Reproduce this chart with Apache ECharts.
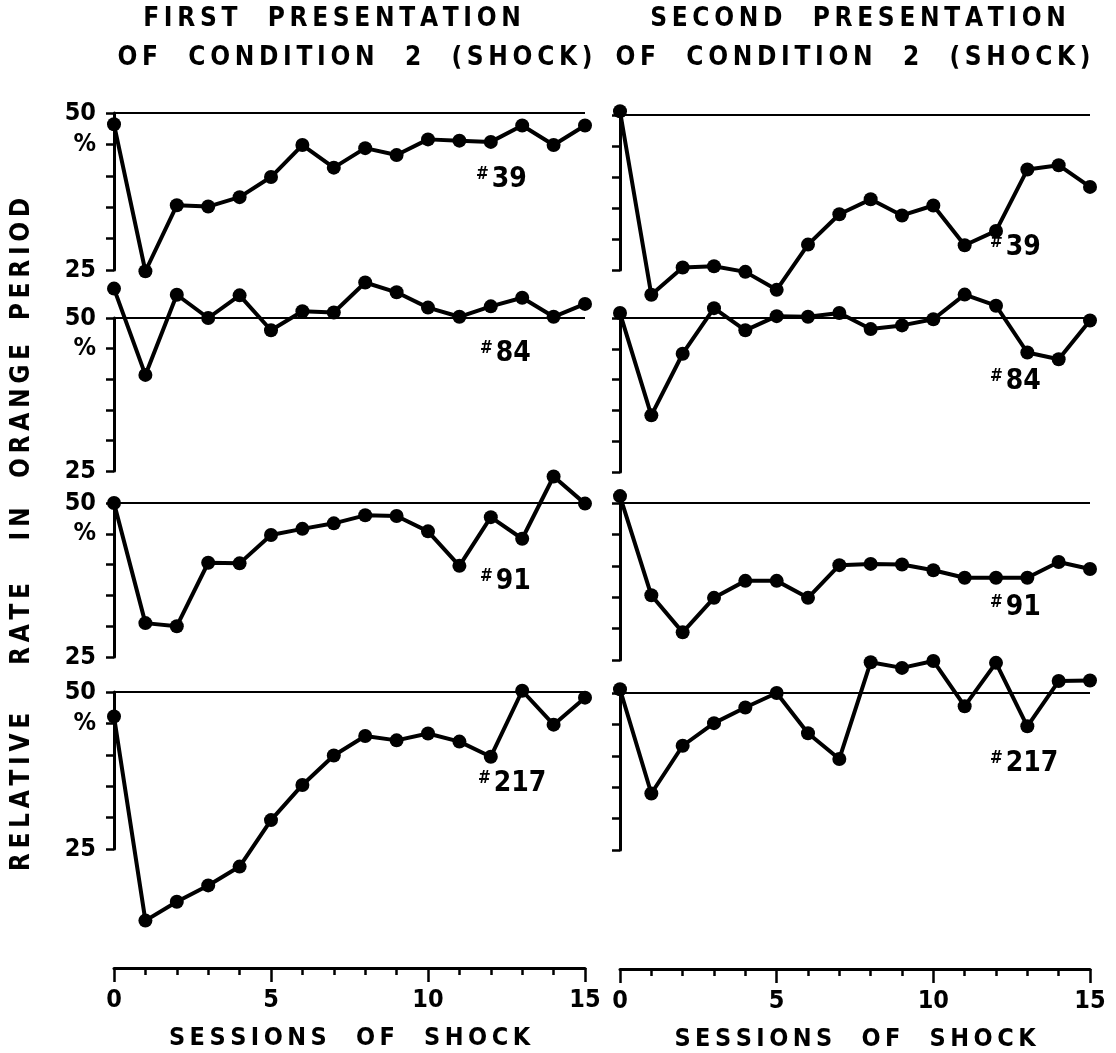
<!DOCTYPE html>
<html>
<head>
<meta charset="utf-8">
<script src="https://cdn.jsdelivr.net/npm/echarts@6/dist/echarts.min.js"></script>
<style>
  html, body { margin: 0; padding: 0; background: #fff; }
  #chart { width: 1116px; height: 1053px; }
</style>
</head>
<body>
<div id="chart"></div>
<script>
// sessions of shock (x)
const sessions = [0, 1, 2, 3, 4, 5, 6, 7, 8, 9, 10, 11, 12, 13, 14, 15];

// first presentation of condition 2
const first39 = [48.2, 24.8, 35.3, 35.1, 36.6, 39.8, 44.9, 41.3, 44.4, 43.3, 45.8, 45.6, 45.4, 48.0, 44.9, 48.0];
const first84 = [54.8, 40.7, 53.8, 50.0, 53.7, 48.0, 51.1, 50.9, 55.8, 54.2, 51.7, 50.2, 51.9, 53.3, 50.2, 52.3];
const first91 = [50.0, 30.5, 30.0, 40.3, 40.2, 44.8, 45.8, 46.7, 48.0, 47.9, 45.4, 39.8, 47.7, 44.2, 54.3, 49.9];
const first217 = [46.1, 13.6, 16.6, 19.2, 22.2, 29.6, 35.2, 39.9, 43.0, 42.3, 43.4, 42.1, 39.7, 50.2, 44.8, 49.1];

// second presentation of condition 2
const second39 = [50.6, 21.0, 25.4, 25.6, 24.7, 21.8, 29.1, 34.0, 36.4, 33.8, 35.4, 29.0, 31.3, 41.2, 41.9, 38.4];
const second84 = [50.8, 34.2, 44.2, 51.6, 48.0, 50.3, 50.2, 50.8, 48.2, 48.8, 49.8, 53.8, 52.0, 44.4, 43.3, 49.6];
const second91 = [51.1, 35.3, 29.4, 34.9, 37.6, 37.6, 34.9, 40.1, 40.3, 40.2, 39.3, 38.1, 38.1, 38.1, 40.6, 39.5];
const second217 = [50.6, 34.0, 41.6, 45.2, 47.7, 50.0, 43.6, 39.5, 54.9, 54.0, 55.1, 47.9, 54.8, 44.7, 51.9, 52.0];

// tick labels
const yTickValues = [50, 45, 25];
const yTickTexts = ['50', '%', '25'];
const subjects = ['39', '84', '91', '217'];

const chart = echarts.init(document.getElementById('chart'), null, { renderer: 'canvas' });

const FONT = 'DejaVu Sans Condensed';
const spaced = s => s.split('').join('\u2009');

// panel boxes: left column then right column, top to bottom
const panels = [
  { left: 114, top: 113, width: 471, height: 157, data: first39 },
  { left: 114, top: 318, width: 471, height: 153, data: first84 },
  { left: 114, top: 503, width: 471, height: 154, data: first91 },
  { left: 114, top: 692, width: 471, height: 157, data: first217 },
  { left: 620, top: 115, width: 470, height: 155, data: second39 },
  { left: 620, top: 318, width: 470, height: 154, data: second84 },
  { left: 620, top: 503, width: 470, height: 157, data: second91 },
  { left: 620, top: 693, width: 470, height: 157, data: second217 }
];

const grids = [], xAxes = [], yAxes = [], series = [];
panels.forEach((p, i) => {
  const isLeft = i < 4;
  const isBottom = i === 3 || i === 7;
  grids.push({ left: p.left, top: p.top, width: p.width, height: p.height, outerBoundsMode: 'none', containLabel: false });
  xAxes.push({
    gridIndex: i,
    type: 'value',
    min: 0,
    max: 15,
    interval: 5,
    show: isBottom,
    offset: isBottom ? 119 : 0,
    axisLine: { show: true, lineStyle: { color: '#000', width: 3 } },
    axisTick: { show: true, length: 14, lineStyle: { color: '#000', width: 2.5 } },
    minorTick: { show: true, splitNumber: 5, length: 7, lineStyle: { color: '#000', width: 2.5 } },
    splitLine: { show: false },
    axisLabel: { color: '#000', fontSize: 25, fontFamily: FONT, fontWeight: 'bold', margin: 20 },
    name: spaced('SESSIONS  OF  SHOCK'),
    nameLocation: 'middle',
    nameGap: 58,
    nameTextStyle: { color: '#000', fontSize: 25, fontFamily: FONT, fontWeight: 'bold' }
  });
  yAxes.push({
    gridIndex: i,
    type: 'value',
    min: 25,
    max: 50,
    interval: 5,
    axisLine: { show: true, lineStyle: { color: '#000', width: 3 } },
    axisTick: { show: true, length: 8, lineStyle: { color: '#000', width: 2.5 } },
    splitLine: { show: false },
    axisLabel: {
      show: isLeft,
      color: '#000',
      fontSize: 25,
      fontFamily: FONT,
      fontWeight: 'bold',
      margin: 18,
      formatter: v => {
        const k = yTickValues.indexOf(v);
        return k >= 0 ? yTickTexts[k] : '';
      }
    }
  });
  series.push({
    type: 'line',
    xAxisIndex: i,
    yAxisIndex: i,
    data: sessions.map((s, j) => [s, p.data[j]]),
    clip: false,
    symbol: 'circle',
    symbolSize: 14,
    lineStyle: { color: '#000', width: 4 },
    itemStyle: { color: '#000' },
    markLine: {
      silent: true,
      symbol: 'none',
      label: { show: false },
      lineStyle: { color: '#000', width: 2, type: 'solid' },
      data: [{ yAxis: 50 }]
    },
    z: 3
  });
});

// subject labels like "#39"
const labelPos = [
  [476, 166], [480, 340], [480, 568], [478, 770],
  [990, 234], [990, 368], [990, 594], [990, 750]
];
const subjectTexts = labelPos.map((pos, i) => ({
  type: 'text',
  x: pos[0],
  y: pos[1],
  style: {
    text: '{h|#}{n|' + subjects[i % 4] + '}',
    fill: '#000',
    rich: {
      h: { fontSize: 17, fontFamily: FONT, fontWeight: 'bold', verticalAlign: 'top', padding: [0, 3, 8, 0] },
      n: { fontSize: 28, fontFamily: FONT, fontWeight: 'bold' }
    }
  }
}));

const titleStyle = { fill: '#000', fontSize: 26, fontFamily: FONT, fontWeight: 'bold', align: 'center', verticalAlign: 'middle' };
const titles = [
  { text: spaced('FIRST  PRESENTATION'), x: 332, y: 19 },
  { text: spaced('OF  CONDITION  2  (SHOCK)'), x: 355, y: 58 },
  { text: spaced('SECOND  PRESENTATION'), x: 858, y: 19 },
  { text: spaced('OF  CONDITION  2  (SHOCK)'), x: 853, y: 58 }
].map(t => ({ type: 'text', x: t.x, y: t.y, style: Object.assign({ text: t.text }, titleStyle) }));

// rotated y-axis title, word by word
const yWords = [
  { text: 'RELATIVE', y: 792 },
  { text: 'RATE', y: 624 },
  { text: 'IN', y: 524 },
  { text: 'ORANGE', y: 411 },
  { text: 'PERIOD', y: 259 }
].map(w => ({
  type: 'text',
  x: 22,
  y: w.y,
  rotation: Math.PI / 2,
  style: { text: spaced(w.text), fill: '#000', fontSize: 26, fontFamily: FONT, fontWeight: 'bold', align: 'center', verticalAlign: 'middle' }
}));

chart.setOption({
  backgroundColor: '#fff',
  animation: false,
  grid: grids,
  xAxis: xAxes,
  yAxis: yAxes,
  series: series,
  graphic: titles.concat(yWords, subjectTexts)
});
</script>
</body>
</html>
